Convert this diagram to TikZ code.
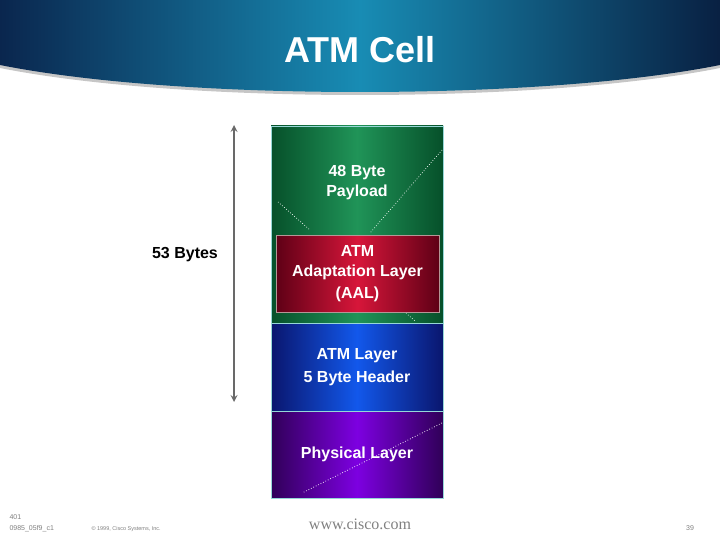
\documentclass[tikz,border=0pt]{standalone}
\usepackage{fontspec}
\setmainfont{Liberation Sans}
\newfontfamily\webfont{Liberation Serif}
\usetikzlibrary{arrows, positioning}

\definecolor{hdrdark}{RGB}{10,38,78}
\definecolor{hdrteal}{RGB}{24,140,180}
\definecolor{greenlite}{RGB}{32,148,88}
\definecolor{greendark}{RGB}{6,80,42}
\definecolor{redlite}{RGB}{215,22,58}
\definecolor{reddark}{RGB}{95,0,22}
\definecolor{bluelite}{RGB}{18,88,235}
\definecolor{bluedark}{RGB}{10,22,110}
\definecolor{purplelite}{RGB}{125,0,225}
\definecolor{purpledark}{RGB}{48,0,88}
\definecolor{edgecol}{RGB}{150,215,215}
\definecolor{arrowgray}{RGB}{105,105,105}

\newcommand{\boxfont}{\bfseries\fontsize{16}{20}\selectfont}
\newcommand{\footfont}{\fontsize{7}{9}\selectfont}

\tikzstyle{layer} = [rectangle, draw=edgecol, line width=0.8pt, minimum width=172pt, text=white, font=\boxfont, align=center, outer sep=0pt, inner sep=0pt]
\tikzstyle{arrow} = [line width=2pt, draw=arrowgray, <->, >=stealth]
\tikzstyle{deco} = [white, dotted, line width=0.7pt]

\begin{document}
\begin{tikzpicture}[x=1pt, y=-1pt]
        \useasboundingbox (0,0) rectangle (720,540);

        % header band
        \fill[gray!45] (0,68) .. controls (180,104) and (540,104) .. (720,68) -- (720,60) -- (0,60) -- cycle;
        \shade[left color=hdrdark, right color=hdrdark!85!black, middle color=hdrteal] (0,0) -- (720,0) -- (720,65) .. controls (540,101) and (180,101) .. (0,65) -- cycle;
        \node (title) [text=white, font=\bfseries\fontsize{36}{40}\selectfont] at (360,50) {ATM Cell};

        % Layers in a vertical column
        \node (payload) [layer, minimum height=197pt, shading angle=45, left color=greendark, right color=greendark, middle color=greenlite] at (357,224.5) {};
        \node (atm) [layer, below=0pt of payload, minimum height=88pt, shading angle=135, left color=bluedark, right color=bluedark, middle color=bluelite] {ATM Layer\\[3pt]5 Byte Header};
        \node (phy) [layer, below=0pt of atm, minimum height=87pt, shading angle=135, left color=purpledark, right color=purpledark, middle color=purplelite] {Physical Layer};

        % decoration lines
        \draw[deco] (442,150) -- (370,233);
        \draw[deco] (278,202) -- (310,230);
        \draw[deco] (406,313) -- (416,322);
        \draw[deco] (442,423) -- (302,493);

        \node (aal) [layer, draw=edgecol!70!red, minimum width=163pt, minimum height=77pt, shading angle=135, left color=reddark, right color=reddark, middle color=redlite] at (357.5,273.5) {ATM\\Adaptation Layer\\[2pt](AAL)};
        \node (payloadtxt) [text=white, font=\boxfont, align=center] at (357,183) {48 Byte\\Payload};

        % size arrow
        \coordinate (celltop) at (234,125);
        \coordinate (cellbot) at (234,402);
        \draw [arrow] (celltop) -- (cellbot);
        \node (size) [font=\boxfont] at (185,255) {53 Bytes};

        % footer
        \node (num) [anchor=west, text=gray, font=\footfont] at (6,517) {401};
        \node (code) [anchor=west, text=gray, font=\footfont] at (6,529) {0985\_05f9\_c1};
        \node (copy) [anchor=west, text=gray, font=\fontsize{5.5}{7}\selectfont] at (88,529) {\textcopyright{} 1999, Cisco Systems, Inc.};
        \node (web) [text=gray, font=\webfont\fontsize{16}{18}\selectfont] at (360,524) {www.cisco.com};
        \node (page) [text=gray, font=\footfont] at (690,528) {39};
    \end{tikzpicture}
\end{document}
